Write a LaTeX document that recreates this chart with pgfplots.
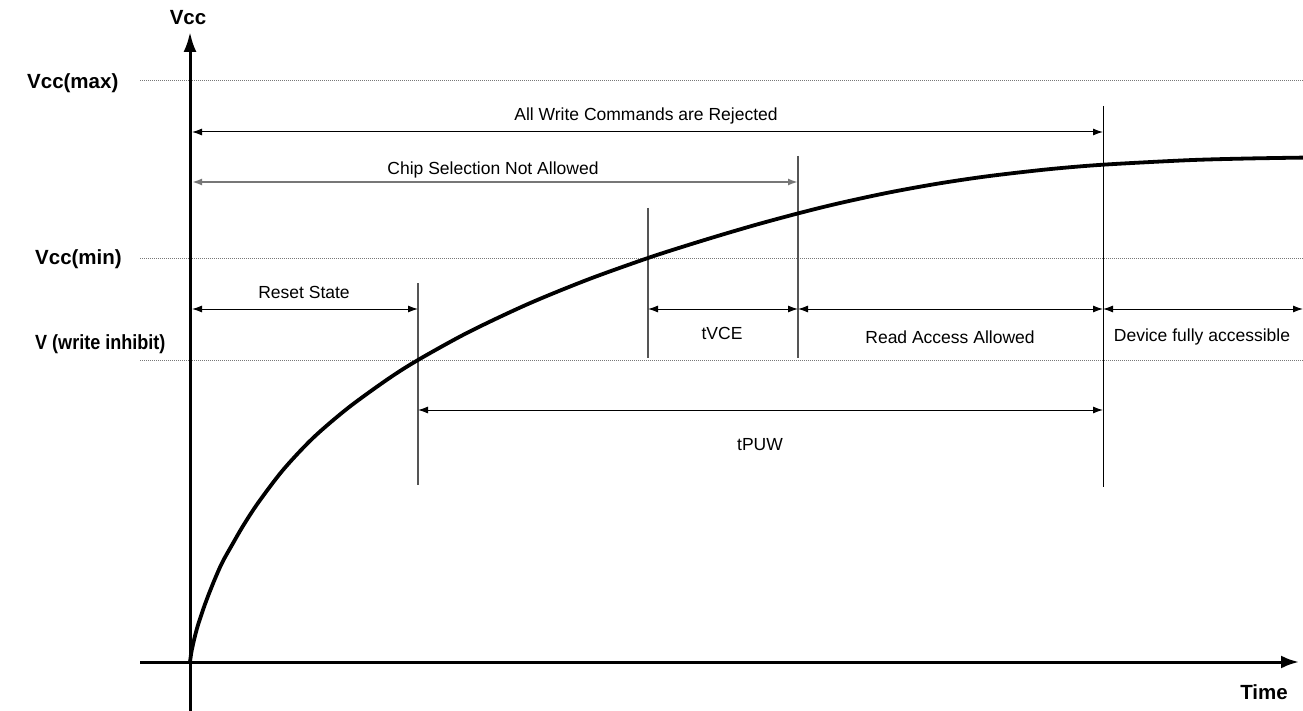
\documentclass[border=0pt]{standalone}
\usepackage{pgfplots}
\pgfplotsset{compat=1.18}
\usepackage{fontspec}
\setmainfont{Liberation Sans}
\usetikzlibrary{arrows.meta}
\definecolor{vline}{HTML}{555555}
\definecolor{dotc}{HTML}{777777}
\begin{document}
\begin{tikzpicture}
\begin{axis}[
  width=1303pt, height=711pt, scale only axis,
  xmin=0, xmax=1303, ymin=0, ymax=711, y dir=reverse,
  hide axis, clip=false,
]
% reference levels (dotted)
\addplot[dotc, line width=0.8pt, dash pattern=on 1pt off 1pt] coordinates {(140,80) (1303,80)};
\addplot[dotc, line width=0.8pt, dash pattern=on 1pt off 1pt] coordinates {(140,258) (1303,258)};
\addplot[dotc, line width=0.8pt, dash pattern=on 1pt off 1pt] coordinates {(140,360) (1303,360)};
% vertical markers
\addplot[vline, line width=1.1pt] coordinates {(418,283) (418,485)};
\addplot[vline, line width=1.1pt] coordinates {(648,208) (648,358)};
\addplot[vline, line width=1.1pt] coordinates {(798,156) (798,358)};
\addplot[black, line width=1pt] coordinates {(1103,106) (1103,487)};
% axes
\addplot[black, line width=3pt, -{Latex[length=20pt,width=13pt]}] coordinates {(190,711) (190,32)};
\addplot[black, line width=3pt, -{Latex[length=18pt,width=13pt]}] coordinates {(140,662) (1299,662)};
% curve
\addplot[black, line width=3.8pt, smooth, tension=0.5] coordinates {
(190,662) (190.8,656) (191.8,650) (194.5,638) (198,625) (204,607) (210,591)
(217,574) (223,561) (232,545) (243,526) (258,503) (283,470) (313,438) (348,408)
(388,379) (418,360) (468,332.4) (528,304) (588,279.5) (648,258) (688,245.1)
(723,234.4) (758,224.2) (798,213.4) (838,203.5) (888,192.7) (938,183.6)
(988,176.2) (1048,169.3) (1103,164.7) (1188,160.2) (1248,158.5) (1303,157.6)};
% interval arrows
\addplot[black, line width=1pt, {Latex[length=10pt,width=7pt]}-{Latex[length=10pt,width=7pt]}] coordinates {(192,132) (1103,132)};
\addplot[dotc, line width=1.8pt, {Latex[length=10pt,width=7pt]}-{Latex[length=10pt,width=7pt]}] coordinates {(192,182) (798,182)};
\addplot[black, line width=1pt, {Latex[length=10pt,width=7pt]}-{Latex[length=10pt,width=7pt]}] coordinates {(192,309) (418,309)};
\addplot[black, line width=1pt, {Latex[length=10pt,width=7pt]}-{Latex[length=10pt,width=7pt]}] coordinates {(648,309) (798,309)};
\addplot[black, line width=1pt, {Latex[length=10pt,width=7pt]}-{Latex[length=10pt,width=7pt]}] coordinates {(798,309) (1103,309)};
\addplot[black, line width=1pt, {Latex[length=10pt,width=7pt]}-{Latex[length=10pt,width=7pt]}] coordinates {(1103,309) (1303,309)};
\addplot[black, line width=1pt, {Latex[length=10pt,width=7pt]}-{Latex[length=10pt,width=7pt]}] coordinates {(418,410) (1103,410)};
% texts
\begin{scope}[every node/.style={inner sep=0pt, font=\fontsize{17.5}{20}\selectfont}]
\node at (axis cs:646,116) {All Write Commands are Rejected};
\node at (axis cs:493,170) {Chip Selection Not Allowed};
\node at (axis cs:304,292) {Reset State};
\node at (axis cs:722,333) {tVCE};
\node at (axis cs:950,337) {Read Access Allowed};
\node at (axis cs:1202,337) {Device fully accessible};
\node at (axis cs:760,445) {tPUW};
\end{scope}
\begin{scope}[every node/.style={inner sep=0pt, font=\fontsize{20.5}{24}\selectfont\bfseries}]
\node[anchor=west] at (axis cs:27,83) {Vcc(max)};
\node[anchor=west] at (axis cs:35,259) {Vcc(min)};
\node[anchor=west] at (axis cs:35,344) {\scalebox{0.88}[1]{V (write inhibit)}};
\node at (axis cs:188,18) {Vcc};
\node at (axis cs:1264,692) {Time};
\end{scope}
\end{axis}
\pgfresetboundingbox
\useasboundingbox (current axis.south west) rectangle (current axis.north east);
\end{tikzpicture}
\end{document}
